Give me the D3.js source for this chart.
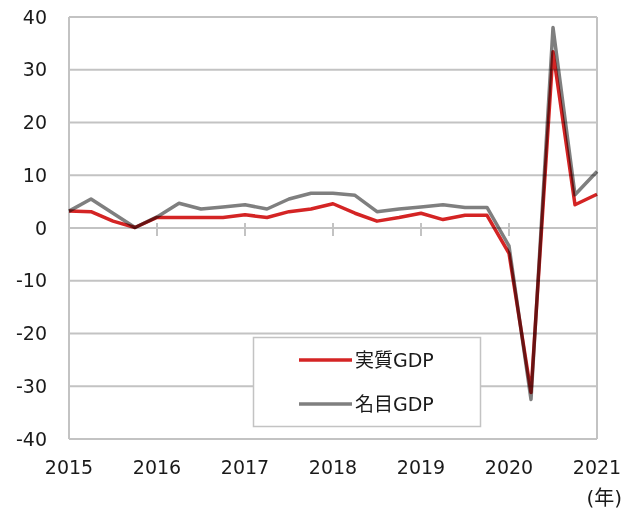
<!DOCTYPE html>
<html>
<head>
<meta charset="utf-8">
<script src="https://cdn.jsdelivr.net/npm/d3@7"></script>
<style>
  body { margin: 0; background: #fff; }
  text { font-family: "DejaVu Sans", Verdana, sans-serif; fill: #1a1a1a; }
  .jp { font-family: "DejaVu Sans", "Noto Sans CJK JP", sans-serif; }
</style>
</head>
<body>
<div class="chart"></div>
<script>
// quarterly growth, 2015Q1 .. 2021Q1
const quarters = d3.range(25).map(i => 2015 + i / 4);
const realGdp = [3.2, 3.1, 1.3, 0.1, 2.0, 2.0, 2.0, 2.0, 2.5, 2.0, 3.1, 3.6, 4.6, 2.8, 1.3, 2.0, 2.8, 1.6, 2.4, 2.4, -4.8, -31.2, 33.4, 4.4, 6.4];
const nominalGdp = [3.2, 5.5, 2.8, 0.1, 2.1, 4.7, 3.6, 4.0, 4.4, 3.6, 5.5, 6.6, 6.6, 6.2, 3.1, 3.6, 4.0, 4.4, 3.9, 3.9, -3.4, -32.5, 38.0, 6.3, 10.7];
const years = [2015, 2016, 2017, 2018, 2019, 2020, 2021];
const yTicks = [-40, -30, -20, -10, 0, 10, 20, 30, 40];

const series = [
  {name: "実質GDP", values: realGdp, color: "#d42424"},
  {name: "名目GDP", values: nominalGdp, color: "#7f7f7f"}
];

const width = 638;
const height = 515;
const margin = {top: 17, right: 41, bottom: 76, left: 69};

const svg = d3.select(".chart")
  .append("svg")
  .attr("width", width)
  .attr("height", height);

const x = d3.scaleLinear()
  .domain([2015, 2021])
  .range([margin.left, width - margin.right]);

const y = d3.scaleLinear()
  .domain([-40, 40])
  .range([height - margin.bottom, margin.top]);

const gridColor = "#c3c3c3";

// horizontal gridlines
svg.append("g")
  .selectAll("line")
  .data(yTicks)
  .join("line")
  .attr("x1", x(2015))
  .attr("x2", x(2021))
  .attr("y1", d => y(d))
  .attr("y2", d => y(d))
  .attr("stroke", gridColor)
  .attr("stroke-width", 2);

// left and right borders
svg.append("g")
  .selectAll("line")
  .data([2015, 2021])
  .join("line")
  .attr("x1", d => x(d))
  .attr("x2", d => x(d))
  .attr("y1", y(40))
  .attr("y2", y(-40))
  .attr("stroke", gridColor)
  .attr("stroke-width", 2);

// year ticks on the zero line
svg.append("g")
  .selectAll("line")
  .data(years.slice(1, -1))
  .join("line")
  .attr("x1", d => x(d))
  .attr("x2", d => x(d))
  .attr("y1", y(0) - 5)
  .attr("y2", y(0) + 8)
  .attr("stroke", gridColor)
  .attr("stroke-width", 2);

// y labels
svg.append("g")
  .selectAll("text")
  .data(yTicks)
  .join("text")
  .attr("x", 47)
  .attr("y", d => y(d))
  .attr("dy", "0.35em")
  .attr("text-anchor", "end")
  .attr("font-size", 19)
  .text(d => d);

// x labels
svg.append("g")
  .selectAll("text")
  .data(years)
  .join("text")
  .attr("x", d => x(d))
  .attr("y", 474)
  .attr("text-anchor", "middle")
  .attr("font-size", 19)
  .text(d => d);

svg.append("text")
  .attr("class", "jp")
  .attr("x", 622)
  .attr("y", 505)
  .attr("text-anchor", "end")
  .attr("font-size", 20)
  .text("(年)");

// legend box (drawn over gridlines, under the lines)
const legend = svg.append("g");
legend.append("rect")
  .attr("x", 253.5)
  .attr("y", 337.5)
  .attr("width", 227)
  .attr("height", 89)
  .attr("fill", "#fff")
  .attr("stroke", gridColor)
  .attr("stroke-width", 1.5);

const line = d3.line()
  .x((d, i) => x(quarters[i]))
  .y(d => y(d));

svg.append("g")
  .selectAll("path")
  .data(series)
  .join("path")
  .attr("d", d => line(d.values))
  .attr("fill", "none")
  .attr("stroke", d => d.color)
  .attr("stroke-width", 3.5)
  .attr("stroke-linejoin", "round")
  .style("mix-blend-mode", "multiply");

const items = legend.selectAll("g.item")
  .data(series)
  .join("g")
  .attr("class", "item")
  .attr("transform", (d, i) => `translate(0, ${360 + i * 44})`);

items.append("line")
  .attr("x1", 299)
  .attr("x2", 352)
  .attr("stroke", d => d.color)
  .attr("stroke-width", 3.5);

items.append("text")
  .attr("class", "jp")
  .attr("x", 355)
  .attr("dy", "0.35em")
  .attr("font-size", 19)
  .text(d => d.name);
</script>
</body>
</html>
